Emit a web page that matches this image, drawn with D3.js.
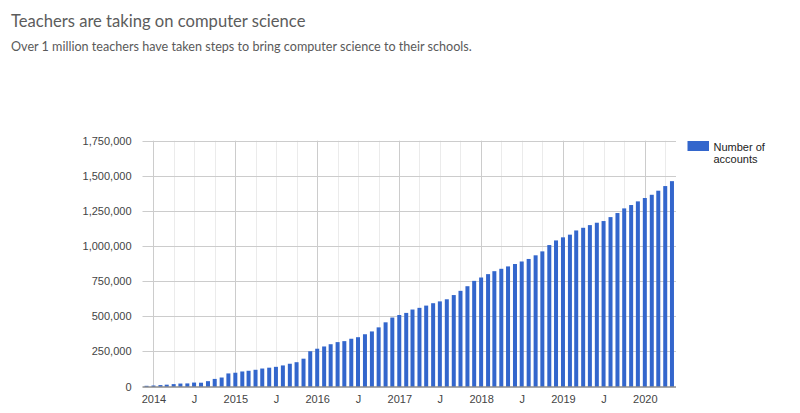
<!DOCTYPE html>
<html>
<head>
<meta charset="utf-8">
<script src="https://cdn.jsdelivr.net/npm/d3@7"></script>
<style>
  body { margin: 0; background: #fff; }
  svg { display: block; }
</style>
</head>
<body>
<div class="chart"></div>
<script>
// ======= TEACHER ACCOUNTS COLUMN CHART ===========

const months = [
  '2013-12',
  '2014-01', '2014-02', '2014-03', '2014-04', '2014-05', '2014-06', '2014-07', '2014-08', '2014-09', '2014-10', '2014-11', '2014-12',
  '2015-01', '2015-02', '2015-03', '2015-04', '2015-05', '2015-06', '2015-07', '2015-08', '2015-09', '2015-10', '2015-11', '2015-12',
  '2016-01', '2016-02', '2016-03', '2016-04', '2016-05', '2016-06', '2016-07', '2016-08', '2016-09', '2016-10', '2016-11', '2016-12',
  '2017-01', '2017-02', '2017-03', '2017-04', '2017-05', '2017-06', '2017-07', '2017-08', '2017-09', '2017-10', '2017-11', '2017-12',
  '2018-01', '2018-02', '2018-03', '2018-04', '2018-05', '2018-06', '2018-07', '2018-08', '2018-09', '2018-10', '2018-11', '2018-12',
  '2019-01', '2019-02', '2019-03', '2019-04', '2019-05', '2019-06', '2019-07', '2019-08', '2019-09', '2019-10', '2019-11', '2019-12',
  '2020-01', '2020-02', '2020-03', '2020-04', '2020-05'
]

const accounts = [
  5000,
  7000, 10000, 13000, 17000, 21000, 22000, 28000, 27000, 38000, 54000, 64000, 93000,
  98000, 107000, 112000, 119000, 128000, 134000, 140000, 150000, 162000, 173000, 198000, 251000,
  269000, 285000, 301000, 316000, 323000, 340000, 351000, 372000, 392000, 421000, 457000, 491000,
  509000, 524000, 548000, 560000, 576000, 593000, 606000, 621000, 651000, 681000, 714000, 752000,
  776000, 800000, 821000, 838000, 855000, 872000, 890000, 908000, 934000, 962000, 1007000, 1040000,
  1062000, 1081000, 1111000, 1130000, 1149000, 1166000, 1178000, 1206000, 1235000, 1268000, 1292000, 1318000,
  1342000, 1365000, 1394000, 1427000, 1462000
]

const yTicks = [0, 250000, 500000, 750000, 1000000, 1250000, 1500000, 1750000]
const yearTicks = ['2014', '2015', '2016', '2017', '2018', '2019', '2020']
const julyTicks = ['2014-07', '2015-07', '2016-07', '2017-07', '2018-07', '2019-07']
const seriesName = ['Number of', 'accounts']

const parseMonth = d3.timeParse('%Y-%m')
const data = months.map((m, i) => ({ date: parseMonth(m), value: accounts[i] }))

const W = 800
const H = 413
const plot = { left: 142.5, right: 676, top: 140.7, bottom: 386.5 }

const svg = d3.select('.chart')
  .append('svg')
    .attr('width', W)
    .attr('height', H)

svg.append('rect')
  .attr('width', W)
  .attr('height', H)
  .attr('fill', '#fff')

// titles
svg.append('text')
  .attr('x', 11)
  .attr('y', 26.5)
  .attr('font-family', 'Lato, "Open Sans", sans-serif')
  .attr('font-size', 16.6)
  .attr('fill', '#5c5c5c')
  .text('Teachers are taking on computer science')

svg.append('text')
  .attr('x', 11)
  .attr('y', 50.5)
  .attr('font-family', 'Lato, "Open Sans", sans-serif')
  .attr('font-size', 12.6)
  .attr('fill', '#5a5a5a')
  .text('Over 1 million teachers have taken steps to bring computer science to their schools.')

const xScale = d3.scaleTime()
  .domain([new Date(2013, 10, 13), new Date(2020, 4, 19)])
  .range([plot.left, plot.right])

const yScale = d3.scaleLinear()
  .domain([0, 1750000])
  .range([plot.bottom, plot.top])

// minor vertical gridlines (quarters)
const quarters = d3.timeMonth.every(3).range(new Date(2014, 0, 1), new Date(2020, 4, 1))
svg.append('g')
  .selectAll('line')
  .data(quarters.filter(d => d.getMonth() !== 0))
  .enter()
  .append('line')
    .attr('x1', d => Math.round(xScale(d)) + 0.5)
    .attr('x2', d => Math.round(xScale(d)) + 0.5)
    .attr('y1', plot.top)
    .attr('y2', plot.bottom)
    .attr('stroke', '#ebebeb')

// horizontal gridlines
svg.append('g')
  .selectAll('line')
  .data(yTicks.slice(1))
  .enter()
  .append('line')
    .attr('x1', plot.left)
    .attr('x2', plot.right)
    .attr('y1', d => Math.round(yScale(d)) + 0.5)
    .attr('y2', d => Math.round(yScale(d)) + 0.5)
    .attr('stroke', '#cccccc')

// year gridlines
svg.append('g')
  .selectAll('line')
  .data(yearTicks.map(d => new Date(+d, 0, 1)))
  .enter()
  .append('line')
    .attr('x1', d => Math.round(xScale(d)) + 0.5)
    .attr('x2', d => Math.round(xScale(d)) + 0.5)
    .attr('y1', plot.top)
    .attr('y2', plot.bottom)
    .attr('stroke', '#cccccc')

// bars
const barW = 4
svg.append('g')
  .selectAll('rect')
  .data(data)
  .enter()
  .append('rect')
    .attr('x', d => xScale(d.date) - barW / 2)
    .attr('y', d => yScale(d.value))
    .attr('width', barW)
    .attr('height', d => plot.bottom - yScale(d.value))
    .attr('fill', '#3366cc')

// baseline
svg.append('line')
  .attr('x1', plot.left)
  .attr('x2', plot.right)
  .attr('y1', plot.bottom + 0.5)
  .attr('y2', plot.bottom + 0.5)
  .attr('stroke', '#555')

// y axis labels
const yAxis = d3.axisLeft(yScale)
  .tickValues(yTicks)
  .tickFormat(d3.format(','))
  .tickSize(0)
  .tickPadding(0)
svg.append('g')
  .attr('transform', 'translate(131.5, 0)')
  .call(yAxis)
  .call(g => g.select('.domain').remove())
  .selectAll('text')
    .attr('font-family', '"Liberation Sans", Arial, sans-serif')
    .attr('font-size', 11)
    .attr('fill', '#444')

// x axis labels
const xTickDates = yearTicks.map(d => new Date(+d, 0, 1))
  .concat(julyTicks.map(parseMonth))
const xAxis = d3.axisBottom(xScale)
  .tickValues(xTickDates)
  .tickFormat(d => d.getMonth() === 0 ? d3.timeFormat('%Y')(d) : 'J')
  .tickSize(0)
  .tickPadding(0)
svg.append('g')
  .attr('transform', `translate(0, ${plot.bottom + 9})`)
  .call(xAxis)
  .call(g => g.select('.domain').remove())
  .selectAll('text')
    .attr('font-family', '"Liberation Sans", Arial, sans-serif')
    .attr('font-size', 11)
    .attr('fill', '#444')

// legend
const legend = svg.append('g')
  .attr('transform', 'translate(687.5, 141)')
legend.append('rect')
  .attr('width', 21.5)
  .attr('height', 10)
  .attr('fill', '#3366cc')
legend.selectAll('text')
  .data(seriesName)
  .enter()
  .append('text')
    .attr('x', 26)
    .attr('y', (d, i) => 9.5 + i * 12.8)
    .attr('font-family', '"Liberation Sans", Arial, sans-serif')
    .attr('font-size', 11)
    .attr('fill', '#222')
    .text(d => d)
</script>
</body>
</html>
